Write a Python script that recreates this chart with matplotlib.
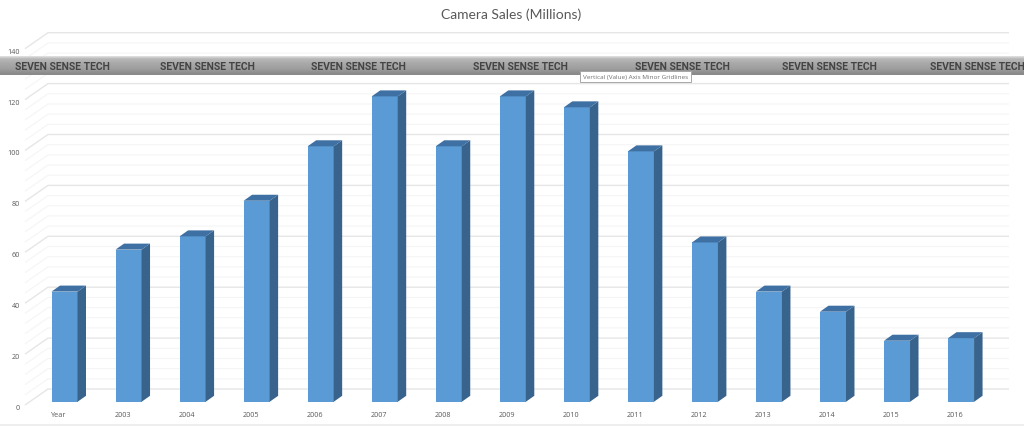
import matplotlib

matplotlib.use("Agg")
import matplotlib.pyplot as plt
import numpy as np
from matplotlib.transforms import ScaledTranslation

plt.rcParams["font.family"] = ["Open Sans", "DejaVu Sans"]

years = ["Year", "2003", "2004", "2005", "2006", "2007", "2008", "2009",
         "2010", "2011", "2012", "2013", "2014", "2015", "2016"]
sales = [43.3, 59.8, 65, 79, 100.4, 120, 100.4, 120, 115.7, 98.4, 62.6, 43.3, 35.4, 24, 25]
value_ticks = [0, 20, 40, 60, 80, 100, 120, 140]
minor_ticks = [v for v in range(0, 141, 4) if v % 20 != 0]
banner_text = "SEVEN SENSE TECH"
banner_x = [15, 160, 311, 473, 635, 782, 930]

W, H = 1024, 427
PX_PER_VALUE = 2.545
PX_PER_BAR = 64.04
FIRST_BAR = 64.5

fig = plt.figure(figsize=(W / 100, H / 100), dpi=100, facecolor="white")

# axes box is the front edge of the side wall, 0 at y=406 and 140 at y=50
left, right, bottom = 25, 1009, 406
top = bottom - 140 * PX_PER_VALUE
ax = fig.add_axes([left / W, 1 - bottom / H, (right - left) / W, (bottom - top) / H])
ax.set_xlim((left - FIRST_BAR) / PX_PER_BAR, (right - FIRST_BAR) / PX_PER_BAR)
ax.set_ylim(0, 140)
ax.patch.set_alpha(0)
for spine in ax.spines.values():
    spine.set_visible(False)

wall_dx = 23 / PX_PER_BAR
wall_dy = 16 / PX_PER_VALUE
x0 = ax.get_xlim()[0]
x1 = ax.get_xlim()[1]


def draw_grid(values, color, lw):
    for v in values:
        ax.plot([x0, x0 + wall_dx, x1], [v, v + wall_dy, v + wall_dy],
                color=color, lw=lw, clip_on=False, zorder=1, solid_capstyle="butt")


draw_grid(minor_ticks, "#f5f5f5", 0.8)
draw_grid(value_ticks, "#e6e6e6", 1.0)

# bars stand a little in front of the back wall
lift = 3.2 / PX_PER_VALUE
bar_w = 26 / PX_PER_BAR
side_dx = 8.5 / PX_PER_BAR
side_dy = 6 / PX_PER_VALUE
positions = np.arange(len(years))

ax.bar(positions, sales, width=bar_w, bottom=lift, color="#5b9bd5", linewidth=0, zorder=3)
for x, v in zip(positions, sales):
    xr = x + bar_w / 2
    xl = x - bar_w / 2
    t = v + lift
    ax.fill([xr, xr + side_dx, xr + side_dx, xr],
            [lift, lift + side_dy, t + side_dy, t], color="#38638c", lw=0, zorder=3)
    ax.fill([xl, xl + side_dx, xr + side_dx, xr],
            [t, t + side_dy, t + side_dy, t], color="#3e70a3", lw=0, zorder=3)

ax.set_xticks(positions, labels=years)
ax.set_yticks(value_ticks)
ax.tick_params(axis="both", length=0, labelsize=5.2, labelcolor="#595959")
ax.tick_params(axis="x", pad=4.5)
ax.tick_params(axis="y", pad=3.5)
for label in ax.get_xticklabels():
    label.set_transform(label.get_transform() + ScaledTranslation(-6 / 100, 0, fig.dpi_scale_trans))
for label in ax.get_yticklabels():
    label.set_transform(label.get_transform() + ScaledTranslation(0, -1.5 / 100, fig.dpi_scale_trans))

fig.text(511 / W, 1 - 15 / H, "Camera Sales (Millions)", ha="center", va="center",
         fontsize=10, color="#595959", family=["Lato", "DejaVu Sans"])

# grey strip pasted over the chart
strip = fig.add_axes([0, 1 - 76 / H, 1, 19 / H], zorder=5)
shade = np.array([0.88, 0.72, 0.69, 0.66, 0.64, 0.62, 0.58, 0.54]).reshape(-1, 1)
strip.imshow(shade, cmap="gray", vmin=0, vmax=1, aspect="auto", extent=(0, W, 19, 0),
             interpolation="bilinear")
strip.set_xlim(0, W)
strip.set_ylim(19, 0)
strip.axis("off")
for x in banner_x:
    strip.text(x, 10, banner_text, ha="left", va="center", fontsize=7.5, fontweight="bold",
               color="#444444", family=["Roboto", "DejaVu Sans"])

fig.text(583 / W, 1 - 77.5 / H, "Vertical (Value) Axis Minor Gridlines", ha="left", va="center",
         fontsize=4.6, color="#707070", zorder=7,
         bbox=dict(boxstyle="square,pad=0.5", fc="white", ec="#a8a8a8", lw=0.7))

# light strip at the bottom edge
fig.add_artist(plt.Rectangle((0, 0), 1, 2 / H, transform=fig.transFigure, color="#eeeeee", lw=0))

fig.savefig("out.png", dpi=100)
